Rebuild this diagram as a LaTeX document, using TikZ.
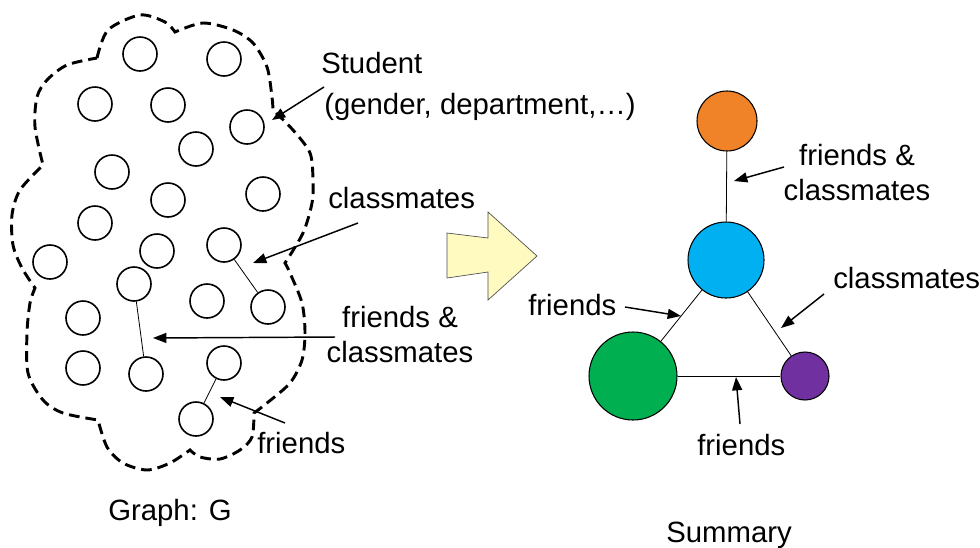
\documentclass[tikz,border=0pt]{standalone}
\usepackage{fontspec}
\setmainfont{Liberation Sans}
\usetikzlibrary{arrows.meta}
\definecolor{corange}{RGB}{240,130,40}
\definecolor{cblue}{RGB}{0,176,240}
\definecolor{cgreen}{RGB}{0,176,80}
\definecolor{cpurple}{RGB}{112,48,160}
\definecolor{cyellow}{RGB}{255,251,192}
\tikzset{
  lbl/.style={font=\fontsize{22}{26}\selectfont, inner sep=0pt},
  sc/.style={circle, draw, line width=1.2pt, minimum size=25.5pt, inner sep=0pt},
  big/.style={circle, draw, line width=0.8pt, inner sep=0pt},
  edge/.style={line width=0.6pt},
  pointer/.style={line width=1.1pt, -{Triangle[length=10pt,width=7.5pt]}},
  cloud/.style={line width=2.2pt, dash pattern=on 8pt off 4.5pt},
}
\begin{document}
\begin{tikzpicture}[x=0.75pt,y=-0.75pt]
\useasboundingbox (0,0) rectangle (980,547);
% cloud
\draw[cloud]
 plot[smooth] coordinates {(97,58) (108,30) (140,15) (165,22) (175,32)}
 -- plot[smooth] coordinates {(175,32) (203,23) (233,30) (253,43) (267,67) (272,97) (273,110)}
 -- plot[smooth] coordinates {(273,110) (293,130) (310,153) (313,180) (312,203) (303,233) (285,263)}
 -- plot[smooth] coordinates {(285,263) (290,273) (302,303) (305,333) (302,360) (290,383) (267,403) (254,413)}
 -- plot[smooth] coordinates {(254,413) (252,437) (240,450) (220,459) (200,457) (190,450)}
 -- plot[smooth] coordinates {(190,450) (170,463) (147,470) (123,463) (107,447) (98,420)}
 -- plot[smooth] coordinates {(98,420) (63,413) (43,400) (28,373) (27,333) (30,303) (35,288)}
 -- plot[smooth] coordinates {(35,288) (22,268) (13,245) (12,215) (20,190) (43,165)}
 -- plot[smooth] coordinates {(43,165) (35,127) (37,97) (47,80) (67,65) (97,58)};
% small circles
\node[sc] (s1) at (140,54) {};
\node[sc] (s2) at (224,59) {};
\node[sc] (s3) at (95,104) {};
\node[sc] (s4) at (168,105) {};
\node[sc] (s5) at (247,127) {};
\node[sc] (s6) at (196,149) {};
\node[sc] (s7) at (112,172) {};
\node[sc] (s8) at (263,194) {};
\node[sc] (s9) at (168,200) {};
\node[sc] (s10) at (95,223) {};
\node[sc] (s11) at (157,251) {};
\node[sc] (s12) at (224,245) {};
\node[sc] (s13) at (50,262) {};
\node[sc] (s14) at (134,284) {};
\node[sc] (s15) at (207,301) {};
\node[sc] (s16) at (268,307) {};
\node[sc] (s17) at (83,318) {};
\node[sc] (s18) at (83,368) {};
\node[sc] (s19) at (146,374) {};
\node[sc] (s20) at (224,363) {};
\node[sc] (s21) at (196,419) {};
\draw[edge] (s12) -- (s16);
\draw[edge] (s14) -- (s19);
\draw[edge] (s20) -- (s21);
% left labels
\node[lbl, anchor=base west] (stu1) at (321,73) {Student};
\node[lbl, anchor=base west] (stu2) at (324,114) {(gender, department,…)};
\node[lbl, anchor=base west] (cls1) at (328,208) {classmates};
\node[lbl, anchor=base] (fc1a) at (400,327) {friends \&};
\node[lbl, anchor=base] (fc1b) at (400,362) {classmates};
\node[lbl, anchor=base west] (fr1) at (257,453) {friends};
\node[lbl, anchor=base west] (gG) at (108,520) {Graph: G};
% left arrows
\coordinate (a1s) at (324,87);  \coordinate (a1e) at (272,120);
\coordinate (a2s) at (358,223); \coordinate (a2e) at (253,263);
\coordinate (a3s) at (335,337); \coordinate (a3e) at (153,338);
\coordinate (a4s) at (285,423); \coordinate (a4e) at (220,397);
\draw[pointer] (a1s) -- (a1e);
\draw[pointer] (a2s) -- (a2e);
\draw[pointer] (a3s) -- (a3e);
\draw[pointer] (a4s) -- (a4e);
% big yellow arrow
\draw[fill=cyellow, draw=black!70, line width=0.5pt] (447,233) -- (488,238) -- (488,212) -- (537,256) -- (488,300) -- (488,272) -- (447,278) -- cycle;
% summary graph
\node[big, fill=corange, minimum size=45pt] (o) at (727,121) {};
\node[big, fill=cblue, minimum size=57pt] (b) at (726,260) {};
\node[big, fill=cgreen, minimum size=66pt] (g) at (633,376) {};
\node[big, fill=cpurple, minimum size=36pt] (p) at (805,376) {};
\draw[edge] (o) -- (b);
\draw[edge] (b) -- (g);
\draw[edge] (b) -- (p);
\draw[edge] (g) -- (p);
% right labels
\node[lbl, anchor=base] (fc2a) at (857,165) {friends \&};
\node[lbl, anchor=base] (fc2b) at (857,200) {classmates};
\node[lbl, anchor=base west] (cls2) at (833,288) {classmates};
\node[lbl, anchor=base west] (fr2) at (528,315) {friends};
\node[lbl, anchor=base west] (fr3) at (697,455) {friends};
\node[lbl, anchor=base west] (sum) at (666,542) {Summary};
% right arrows
\coordinate (b1s) at (784,167); \coordinate (b1e) at (734,181);
\coordinate (b2s) at (625,307); \coordinate (b2e) at (681,316);
\coordinate (b3s) at (824,294); \coordinate (b3e) at (781,328);
\coordinate (b4s) at (740,424); \coordinate (b4e) at (736,377);
\draw[pointer] (b1s) -- (b1e);
\draw[pointer] (b2s) -- (b2e);
\draw[pointer] (b3s) -- (b3e);
\draw[pointer] (b4s) -- (b4e);
\end{tikzpicture}
\end{document}
